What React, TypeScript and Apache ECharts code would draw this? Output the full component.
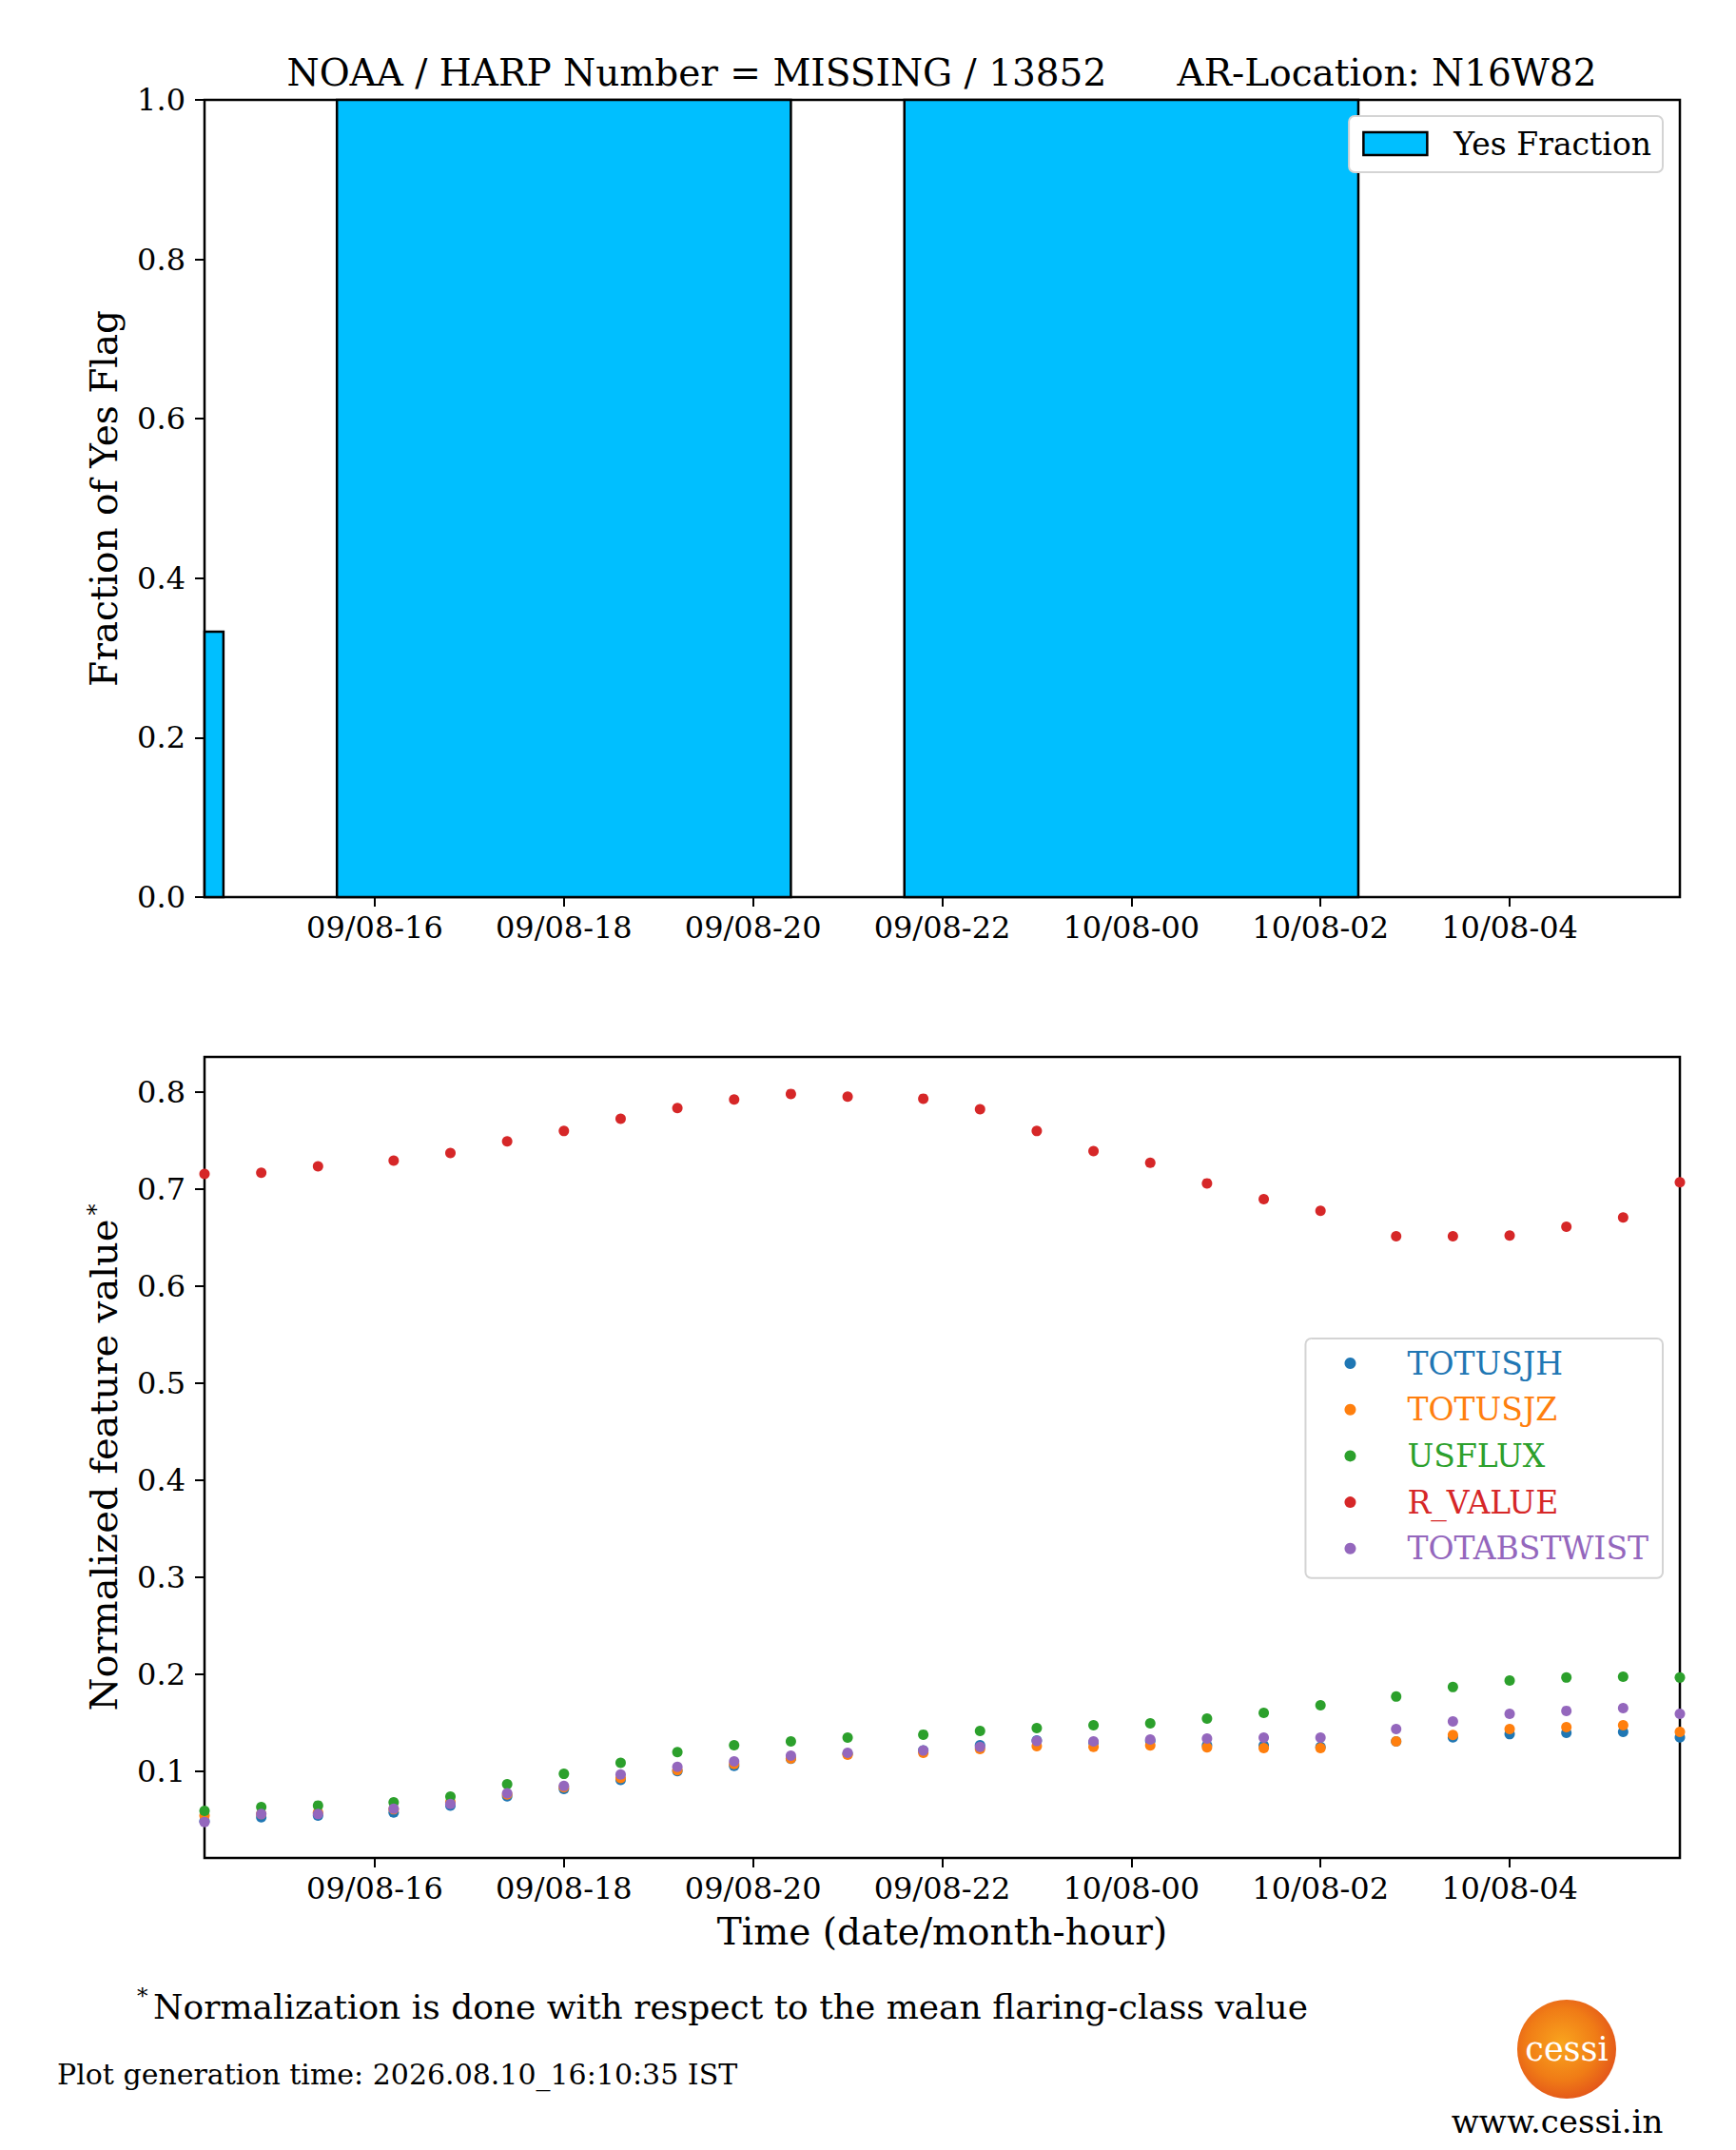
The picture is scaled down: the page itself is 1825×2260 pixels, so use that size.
import * as echarts from 'echarts';
import { useEffect, useRef } from 'react';

const FONT = 'DejaVu Serif';

// top panel: 6-hour bins of the yes flag
const binCenters = [12, 18, 24];
const yesFraction = [0.333, 1, 1];

// bottom panel: sample times in hours from 09/08 00:00
const sampleHours = [
  14.2, 14.8, 15.4, 16.2, 16.8, 17.4, 18.0, 18.6, 19.2, 19.8, 20.4, 21.0, 21.8,
  22.4, 23.0, 23.6, 24.2, 24.8, 25.4, 26.0, 26.8, 27.4, 28.0, 28.6, 29.2, 29.8,
];

const totusjh = [
  0.049, 0.0529, 0.0546, 0.0578, 0.065, 0.0744, 0.082, 0.0914, 0.1003, 0.1059, 0.1131, 0.1183, 0.1216,
  0.1271, 0.132, 0.1297, 0.1314, 0.1272, 0.1268, 0.1255, 0.1311, 0.1353, 0.1385, 0.1399, 0.1409, 0.1353,
];
const totusjz = [
  0.0546, 0.0562, 0.0578, 0.0611, 0.0686, 0.0763, 0.0838, 0.0932, 0.1013, 0.1078, 0.1134, 0.1173, 0.1193,
  0.1232, 0.1262, 0.1255, 0.1268, 0.1248, 0.1242, 0.1242, 0.1311, 0.1376, 0.1438, 0.1458, 0.1477, 0.1409,
];
const usflux = [
  0.0595, 0.0634, 0.065, 0.0683, 0.0742, 0.087, 0.0976, 0.1089, 0.1199, 0.1271, 0.1311, 0.135, 0.138,
  0.1419, 0.1448, 0.1477, 0.1497, 0.1546, 0.1605, 0.1683, 0.1772, 0.187, 0.1938, 0.1968, 0.1977, 0.1968,
];
const rValue = [
  0.7154, 0.7167, 0.7234, 0.7292, 0.7371, 0.7491, 0.7597, 0.7723, 0.7834, 0.7922, 0.7979, 0.7952, 0.793,
  0.7822, 0.7597, 0.739, 0.7271, 0.7058, 0.6895, 0.6776, 0.6512, 0.6512, 0.652, 0.6612, 0.6706, 0.707,
];
const totabstwist = [
  0.048, 0.0562, 0.0562, 0.0618, 0.0667, 0.0776, 0.0851, 0.097, 0.1049, 0.1105, 0.1164, 0.1193, 0.1216,
  0.1255, 0.1314, 0.1311, 0.133, 0.134, 0.135, 0.135, 0.1438, 0.1517, 0.1595, 0.1625, 0.1654, 0.1595,
];

const featureNames = ['TOTUSJH', 'TOTUSJZ', 'USFLUX', 'R_VALUE', 'TOTABSTWIST'];
const featureValues = [totusjh, totusjz, usflux, rValue, totabstwist];
const featureColors = ['#1f77b4', '#ff7f0e', '#2ca02c', '#d62728', '#9467bd'];

const xTickHours = [16, 18, 20, 22, 24, 26, 28];
const xTickLabels = ['09/08-16', '09/08-18', '09/08-20', '09/08-22', '10/08-00', '10/08-02', '10/08-04'];
const featureTicks = [0.1, 0.2, 0.3, 0.4, 0.5, 0.6, 0.7, 0.8];

const X_MIN = 14.2;
const X_MAX = 29.8;
const BIN_WIDTH = 4.8;
const BAR_COLOR = '#00bfff';

export default function App() {
  const ref = useRef<HTMLDivElement>(null);

  useEffect(() => {
    const el = ref.current;
    if (!el) return undefined;
    const chart = echarts.init(el, undefined, { renderer: 'svg' });

    const tickLabel = (v: number) => {
      const i = xTickHours.indexOf(Math.round(v));
      return i >= 0 ? xTickLabels[i] : '';
    };
    const tickStyle = { show: true, inside: false, length: 10, lineStyle: { color: '#000', width: 2 } };
    const labelStyle = { color: '#000', fontFamily: FONT, fontSize: 32 };
    const timeAxis = (gridIndex: number, name: string) => ({
      type: 'value',
      gridIndex,
      min: X_MIN,
      max: X_MAX,
      name,
      nameLocation: 'middle',
      nameGap: 58,
      nameTextStyle: { color: '#000', fontFamily: FONT, fontSize: 39 },
      axisLine: { show: false },
      axisTick: { ...tickStyle, customValues: xTickHours },
      axisLabel: { ...labelStyle, margin: 16, customValues: xTickHours, formatter: tickLabel },
      splitLine: { show: false },
    });

    chart.setOption({
      animation: false,
      backgroundColor: '#fff',
      grid: [
        { left: 215, top: 105, width: 1551, height: 838, show: true, borderColor: '#000', borderWidth: 2.5 },
        { left: 215, top: 1111, width: 1551, height: 842, show: true, borderColor: '#000', borderWidth: 2.5 },
      ],
      xAxis: [timeAxis(0, ''), timeAxis(1, 'Time (date/month-hour)')],
      yAxis: [
        {
          type: 'value',
          gridIndex: 0,
          min: 0,
          max: 1,
          interval: 0.2,
          name: 'Fraction of Yes Flag',
          nameLocation: 'middle',
          nameRotate: 90,
          nameGap: 86,
          nameTextStyle: { color: '#000', fontFamily: FONT, fontSize: 39 },
          axisLine: { show: false },
          axisTick: tickStyle,
          axisLabel: { ...labelStyle, margin: 20, formatter: (v: number) => v.toFixed(1) },
          splitLine: { show: false },
        },
        {
          type: 'value',
          gridIndex: 1,
          min: 0.011,
          max: 0.836,
          name: '{a|Normalized feature value}{b|*}',
          nameLocation: 'middle',
          nameRotate: 90,
          nameGap: 86,
          nameTextStyle: {
            color: '#000',
            fontFamily: FONT,
            fontSize: 40,
            rich: {
              a: { fontFamily: FONT, fontSize: 40, color: '#000' },
              b: { fontFamily: FONT, fontSize: 24, color: '#000', verticalAlign: 'top', padding: [0, 0, 12, 4] },
            },
          },
          axisLine: { show: false },
          axisTick: { ...tickStyle, customValues: featureTicks },
          axisLabel: { ...labelStyle, margin: 20, customValues: featureTicks, formatter: (v: number) => v.toFixed(1) },
          splitLine: { show: false },
        },
      ],
      legend: [
        {
          data: [{ name: 'Yes Fraction', icon: 'rect' }],
          right: 77,
          top: 122,
          padding: [9, 12, 10, 14],
          itemWidth: 67,
          itemHeight: 24,
          selectedMode: false,
          backgroundColor: '#fff',
          borderColor: '#d4d4d4',
          borderWidth: 2,
          borderRadius: 6,
          itemStyle: { color: BAR_COLOR, borderColor: '#000', borderWidth: 2.5 },
          textStyle: { color: '#000', fontFamily: FONT, fontSize: 33, lineHeight: 40, padding: [0, 0, 0, 23] },
        },
        {
          data: featureNames.map((name, i) => ({ name, icon: 'circle', textStyle: { color: featureColors[i] } })),
          orient: 'vertical',
          right: 77,
          top: 1407,
          padding: [6, 15, 11, 41],
          itemWidth: 12,
          itemHeight: 12,
          itemGap: 8.7,
          selectedMode: false,
          backgroundColor: '#fff',
          borderColor: '#d4d4d4',
          borderWidth: 2,
          borderRadius: 6,
          textStyle: { fontFamily: FONT, fontSize: 33, lineHeight: 40, padding: [0, 0, 0, 49] },
        },
      ],
      series: [
        {
          type: 'custom',
          name: 'Yes Fraction',
          xAxisIndex: 0,
          yAxisIndex: 0,
          itemStyle: { color: BAR_COLOR, borderColor: '#000', borderWidth: 2.5 },
          data: binCenters.map((c, i) => [c, yesFraction[i]]),
          encode: { x: 0, y: 1 },
          renderItem: (params: any, api: any) => {
            const c = api.value(0);
            const v = api.value(1);
            const p0 = api.coord([c - BIN_WIDTH / 2, 0]);
            const p1 = api.coord([c + BIN_WIDTH / 2, v]);
            const cs = params.coordSys;
            const shape = echarts.graphic.clipRectByRect(
              { x: p0[0], y: p1[1], width: p1[0] - p0[0], height: p0[1] - p1[1] },
              { x: cs.x, y: cs.y, width: cs.width, height: cs.height },
            );
            if (!shape) return null;
            return {
              type: 'rect',
              shape,
              style: { fill: BAR_COLOR, stroke: '#000', lineWidth: 2.5 },
            };
          },
        },
        ...featureNames.map((name, i) => ({
          type: 'scatter',
          name,
          xAxisIndex: 1,
          yAxisIndex: 1,
          symbol: 'circle',
          symbolSize: 11,
          itemStyle: { color: featureColors[i], opacity: 1 },
          data: sampleHours.map((h, j) => [h, featureValues[i][j]]),
        })),
      ],
      graphic: [
        {
          type: 'text',
          z: 100,
          style: {
            text: 'NOAA / HARP Number = MISSING / 13852      AR-Location: N16W82',
            x: 990,
            y: 76,
            align: 'center',
            verticalAlign: 'middle',
            fontFamily: FONT,
            fontSize: 39,
            fill: '#000',
          },
        },
        {
          type: 'text',
          style: { text: '*', x: 144, y: 2098, verticalAlign: 'middle', fontFamily: FONT, fontSize: 23, fill: '#000' },
        },
        {
          type: 'text',
          style: {
            text: 'Normalization is done with respect to the mean flaring-class value',
            x: 161,
            y: 2109,
            verticalAlign: 'middle',
            fontFamily: FONT,
            fontSize: 36,
            fill: '#000',
          },
        },
        {
          type: 'text',
          style: {
            text: 'Plot generation time: 2026.08.10_16:10:35 IST',
            x: 60,
            y: 2180,
            verticalAlign: 'middle',
            fontFamily: FONT,
            fontSize: 30,
            fill: '#000',
          },
        },
        {
          type: 'circle',
          shape: { cx: 1647, cy: 2154, r: 52 },
          style: {
            fill: new echarts.graphic.RadialGradient(0.45, 0.45, 0.6, [
              { offset: 0, color: '#f9a51e' },
              { offset: 0.6, color: '#f07c16' },
              { offset: 1, color: '#e2521a' },
            ]),
          },
        },
        {
          type: 'text',
          style: {
            text: 'cessi',
            x: 1647,
            y: 2154,
            align: 'center',
            verticalAlign: 'middle',
            fontFamily: FONT,
            fontSize: 35,
            fill: '#fff',
          },
        },
        {
          type: 'text',
          style: {
            text: 'www.cessi.in',
            x: 1637,
            y: 2230,
            align: 'center',
            verticalAlign: 'middle',
            fontFamily: FONT,
            fontSize: 34,
            fill: '#000',
          },
        },
      ],
    });

    return () => chart.dispose();
  }, []);

  return (
    <div
      ref={ref}
      style={{ position: 'absolute', left: 0, top: 0, width: 1825, height: 2260, background: '#fff' }}
    />
  );
}
